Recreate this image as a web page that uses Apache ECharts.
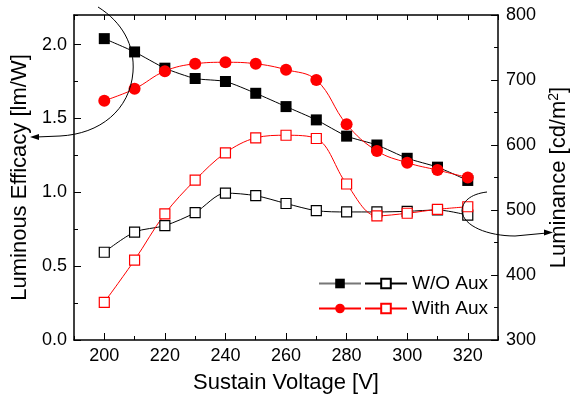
<!DOCTYPE html>
<html><head><meta charset="utf-8">
<script src="https://cdn.jsdelivr.net/npm/echarts@6/dist/echarts.min.js"></script>
<style>html,body{margin:0;padding:0;background:#fff}#c{width:578px;height:399px}</style>
</head><body><div id="c"></div>
<script>
const voltage = [200,210,220,230,240,250,260,270,280,290,300,310,320];
const effWO   = [2.04,1.95,1.84,1.77,1.75,1.67,1.58,1.49,1.38,1.32,1.23,1.17,1.08];
const effWith = [1.62,1.70,1.82,1.87,1.88,1.87,1.83,1.76,1.46,1.28,1.20,1.15,1.10];
const lumWO   = [435,466,476,496,526,522,510,499,497,497,498,500,492];
const lumWith = [358,423,494,546,588,611,615,610,540,491,495,501,505];
const xTitle = 'Sustain Voltage [V]';
const yLeftTitle = 'Luminous Efficacy [lm/W]';
const legendNames = ['W/O Aux', 'With Aux'];

const FONT = 'Liberation Sans, Arial, sans-serif';
const pair = (xs, ys) => xs.map((x, i) => [x, ys[i]]);
const chart = echarts.init(document.getElementById('c'), null, {renderer: 'canvas'});
const axisLine = {show: true, lineStyle: {color: '#000', width: 1.5}};
const lbl = {color: '#000', fontSize: 18, fontFamily: FONT};
const stroke = {fill: null, stroke: '#000', lineWidth: 1};
const legText = {color: '#000', fontSize: 19, lineHeight: 12, fontFamily: FONT};

chart.setOption({
  animation: false,
  backgroundColor: '#fff',
  grid: {left: 74, right: 65, top: 15, bottom: 59},
  textStyle: {fontFamily: FONT},
  xAxis: [
    {type: 'value', position: 'bottom', min: 190, max: 330, splitNumber: 7,
     axisLine, splitLine: {show: false},
     axisTick: {inside: true, length: 7, lineStyle: {color: '#000', width: 1}},
     axisLabel: Object.assign({margin: 7, showMinLabel: false, showMaxLabel: false}, lbl),
     name: xTitle, nameLocation: 'middle', nameGap: 32,
     nameTextStyle: {color: '#000', fontSize: 22, fontFamily: FONT}},
    {type: 'value', position: 'bottom', min: 190, max: 330, interval: 10,
     axisLine: {show: false}, splitLine: {show: false}, axisLabel: {show: false},
     axisTick: {inside: true, length: 4, lineStyle: {color: '#000', width: 1}}},
    {type: 'value', position: 'top', min: 190, max: 330, interval: 10,
     axisLine, splitLine: {show: false}, axisLabel: {show: false},
     axisTick: {inside: true, length: 5, lineStyle: {color: '#000', width: 1}}}
  ],
  yAxis: [
    {type: 'value', position: 'left', min: 0, max: 2.2, interval: 0.5,
     axisLine, splitLine: {show: false},
     axisTick: {inside: true, length: 7, lineStyle: {color: '#000', width: 1}},
     axisLabel: Object.assign({margin: 7, showMaxLabel: false, formatter: v => v.toFixed(1)}, lbl),
     name: yLeftTitle, nameLocation: 'middle', nameGap: 41,
     nameTextStyle: {color: '#000', fontSize: 22, fontFamily: FONT}},
    {type: 'value', position: 'right', min: 300, max: 800, interval: 100,
     axisLine, splitLine: {show: false},
     axisTick: {inside: true, length: 7, lineStyle: {color: '#000', width: 1}},
     minorTick: {show: true, splitNumber: 2, length: 4, lineStyle: {color: '#000', width: 1}},
     axisLabel: Object.assign({margin: 8}, lbl),
     name: 'Luminance [cd/m{sup|2}]', nameLocation: 'middle', nameGap: 31,
     nameTextStyle: {color: '#000', fontSize: 22, fontFamily: FONT,
       rich: {sup: {fontSize: 14, verticalAlign: 'bottom', padding: [0, 0, 10, 0], color: '#000', fontFamily: FONT}}}},
    {type: 'value', position: 'left', min: 0, max: 2.2, interval: 0.25,
     axisLine: {show: false}, splitLine: {show: false}, axisLabel: {show: false},
     axisTick: {inside: true, length: 4, lineStyle: {color: '#000', width: 1}}}
  ],
  legend: [
    {orient: 'vertical', left: 318, top: 274, itemWidth: 42, itemHeight: 12, itemGap: 6,
     padding: 0,
     data: [{name: 'W/O Aux eff', lineStyle: {color: '#777'}}, 'With Aux eff'],
     formatter: () => ' ', textStyle: legText, selectedMode: false},
    {orient: 'vertical', left: 364, top: 274, itemWidth: 42, itemHeight: 12, itemGap: 6,
     padding: 0,
     data: legendNames, textStyle: legText, selectedMode: false}
  ],
  series: [
    {name: 'W/O Aux eff', type: 'line', xAxisIndex: 0, yAxisIndex: 0, data: pair(voltage, effWO),
     smooth: 0.2, symbol: 'rect', symbolSize: 11,
     lineStyle: {color: '#000', width: 1}, itemStyle: {color: '#000'}},
    {name: 'With Aux eff', type: 'line', xAxisIndex: 0, yAxisIndex: 0, data: pair(voltage, effWith),
     smooth: 0.4, symbol: 'circle', symbolSize: 12,
     lineStyle: {color: '#ff0000', width: 1}, itemStyle: {color: '#ff0000'}},
    {name: 'W/O Aux', type: 'line', xAxisIndex: 0, yAxisIndex: 1, data: pair(voltage, lumWO),
     smooth: 0.3, symbol: 'rect', symbolSize: 10,
     lineStyle: {color: '#000', width: 1},
     itemStyle: {color: '#fff', borderColor: '#000', borderWidth: 1.2}},
    {name: 'With Aux', type: 'line', xAxisIndex: 0, yAxisIndex: 1, data: pair(voltage, lumWith),
     smooth: 0.35, symbol: 'rect', symbolSize: 10,
     lineStyle: {color: '#ff0000', width: 1},
     itemStyle: {color: '#fff', borderColor: '#ff0000', borderWidth: 1.2}}
  ],
  graphic: [
    {type: 'bezierCurve', silent: true, z: 10,
     shape: {x1: 98, y1: 7, cpx1: 122, cpy1: 22, cpx2: 135, cpy2: 45, x2: 133, y2: 72}, style: stroke},
    {type: 'bezierCurve', silent: true, z: 10,
     shape: {x1: 133, y1: 72, cpx1: 130, cpy1: 110, cpx2: 100, cpy2: 134, x2: 60, y2: 136}, style: stroke},
    {type: 'line', silent: true, z: 10,
     shape: {x1: 60, y1: 136, x2: 36, y2: 137}, style: stroke},
    {type: 'polygon', silent: true, z: 10,
     shape: {points: [[30,137],[39,134],[39,140]]}, style: {fill: '#000'}},
    {type: 'bezierCurve', silent: true, z: 10,
     shape: {x1: 487, y1: 192, cpx1: 470, cpy1: 194, cpx2: 462, cpy2: 202, x2: 462, y2: 211}, style: stroke},
    {type: 'bezierCurve', silent: true, z: 10,
     shape: {x1: 462, y1: 211, cpx1: 463, cpy1: 226, cpx2: 488, cpy2: 236, x2: 515, y2: 236}, style: stroke},
    {type: 'line', silent: true, z: 10,
     shape: {x1: 515, y1: 236, x2: 547, y2: 233}, style: stroke},
    {type: 'polygon', silent: true, z: 10,
     shape: {points: [[553,232.5],[544,229.5],[544,235.5]]}, style: {fill: '#000'}}
  ]
});
</script></body></html>
